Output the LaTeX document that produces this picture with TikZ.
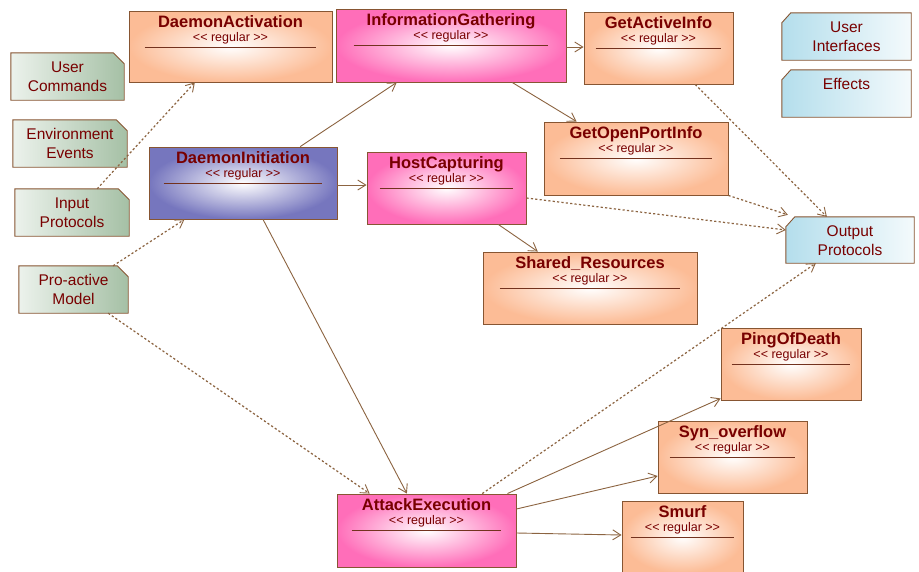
\documentclass[tikz,border=0pt]{standalone}
\usepackage{fontspec}
\setmainfont{Liberation Sans}
\usetikzlibrary{arrows.meta,calc}
\definecolor{bord}{RGB}{135,85,50}
\definecolor{arr}{RGB}{140,100,65}
\definecolor{txt}{RGB}{120,0,0}
\definecolor{peach}{RGB}{252,188,150}
\definecolor{pinkc}{RGB}{255,110,185}
\definecolor{purp}{RGB}{118,118,190}
\definecolor{greenn}{RGB}{165,192,165}
\definecolor{greenl}{RGB}{236,242,236}
\definecolor{bluen}{RGB}{180,222,236}
\definecolor{bluel}{RGB}{244,250,252}
\definecolor{sepc}{RGB}{115,50,30}
\tikzset{
  cls/.style={draw=bord, line width=0.9pt, inner color=white, outer color=#1, inner sep=0},
  notebox/.style={inner sep=0, draw=none},
  notegreen/.style={draw=bord, line width=0.9pt, left color=greenl, right color=greenn},
  noteblue/.style={draw=bord, line width=0.9pt, left color=bluen, right color=bluel},
  ttl/.style={font=\fontsize{16.5}{19}\selectfont\bfseries, text=txt, anchor=base, inner sep=0},
  ster/.style={font=\fontsize{12.5}{14}\selectfont, text=txt, anchor=base, inner sep=0},
  notetxt/.style={font=\fontsize{15.5}{19}\selectfont, text=txt, anchor=north, inner sep=0, align=center},
  sepl/.style={draw=sepc, line width=0.9pt},
  solidarr/.style={draw=arr, line width=0.9pt, -{Straight Barb[length=8pt,width=10pt]}},
  dotarr/.style={draw=arr, line width=1.2pt, dash pattern=on 2.2pt off 2.2pt, -{Straight Barb[length=8pt,width=10pt,line width=0.9pt]}}
}
\begin{document}
\begin{tikzpicture}[x=1pt,y=-1pt]
\useasboundingbox (0,0) rectangle (919,571);
\fill[white] (0,0) rectangle (919,571);

% ---------- class boxes ----------
\node[cls=peach, minimum width=203pt, minimum height=71pt] (da) at (230.5,46.5) {};
\node[ttl] (da-t) at ([yshift=-16.5pt]da.north) {DaemonActivation};
\node[ster] (da-s) at ([yshift=-30.5pt]da.north) {<{}< regular >{}>};
\draw[sepl] ([xshift=16pt,yshift=-36.5pt]da.north west) -- ([xshift=-16pt,yshift=-36.5pt]da.north east);

\node[cls=pinkc, minimum width=230pt, minimum height=73pt] (ig) at (451,45.5) {};
\node[ttl] (ig-t) at ([yshift=-16.5pt]ig.north) {InformationGathering};
\node[ster] (ig-s) at ([yshift=-30.5pt]ig.north) {<{}< regular >{}>};
\draw[sepl] ([xshift=18pt,yshift=-36.5pt]ig.north west) -- ([xshift=-18pt,yshift=-36.5pt]ig.north east);

\node[cls=peach, minimum width=149pt, minimum height=72pt] (gai) at (658.5,48) {};
\node[ttl] (gai-t) at ([yshift=-16.5pt]gai.north) {GetActiveInfo};
\node[ster] (gai-s) at ([yshift=-30.5pt]gai.north) {<{}< regular >{}>};
\draw[sepl] ([xshift=12pt,yshift=-36.5pt]gai.north west) -- ([xshift=-12pt,yshift=-36.5pt]gai.north east);

\node[cls=peach, minimum width=184pt, minimum height=73pt] (gopi) at (636,158.5) {};
\node[ttl] (gopi-t) at ([yshift=-16.5pt]gopi.north) {GetOpenPortInfo};
\node[ster] (gopi-s) at ([yshift=-30.5pt]gopi.north) {<{}< regular >{}>};
\draw[sepl] ([xshift=16pt,yshift=-36.5pt]gopi.north west) -- ([xshift=-16pt,yshift=-36.5pt]gopi.north east);

\node[cls=purp, minimum width=188pt, minimum height=72pt] (di) at (243,183) {};
\node[ttl] (di-t) at ([yshift=-16.5pt]di.north) {DaemonInitiation};
\node[ster] (di-s) at ([yshift=-30.5pt]di.north) {<{}< regular >{}>};
\draw[sepl] ([xshift=15pt,yshift=-36.5pt]di.north west) -- ([xshift=-15pt,yshift=-36.5pt]di.north east);

\node[cls=pinkc, minimum width=159pt, minimum height=72pt] (hc) at (446.5,188) {};
\node[ttl] (hc-t) at ([yshift=-16.5pt]hc.north) {HostCapturing};
\node[ster] (hc-s) at ([yshift=-30.5pt]hc.north) {<{}< regular >{}>};
\draw[sepl] ([xshift=13pt,yshift=-36.5pt]hc.north west) -- ([xshift=-13pt,yshift=-36.5pt]hc.north east);

\node[cls=peach, minimum width=214pt, minimum height=72pt] (sr) at (590,288) {};
\node[ttl] (sr-t) at ([yshift=-16.5pt]sr.north) {Shared\_Resources};
\node[ster] (sr-s) at ([yshift=-30.5pt]sr.north) {<{}< regular >{}>};
\draw[sepl] ([xshift=17pt,yshift=-36.5pt]sr.north west) -- ([xshift=-17pt,yshift=-36.5pt]sr.north east);

\node[cls=peach, minimum width=140pt, minimum height=72pt] (pod) at (791,364) {};
\node[ttl] (pod-t) at ([yshift=-16.5pt]pod.north) {PingOfDeath};
\node[ster] (pod-s) at ([yshift=-30.5pt]pod.north) {<{}< regular >{}>};
\draw[sepl] ([xshift=11pt,yshift=-36.5pt]pod.north west) -- ([xshift=-11pt,yshift=-36.5pt]pod.north east);

\node[cls=peach, minimum width=149pt, minimum height=72pt] (so) at (732.5,457) {};
\node[ttl] (so-t) at ([yshift=-16.5pt]so.north) {Syn\_overflow};
\node[ster] (so-s) at ([yshift=-30.5pt]so.north) {<{}< regular >{}>};
\draw[sepl] ([xshift=12pt,yshift=-36.5pt]so.north west) -- ([xshift=-12pt,yshift=-36.5pt]so.north east);

\node[cls=peach, minimum width=121pt, minimum height=72pt] (sm) at (682.5,537) {};
\node[ttl] (sm-t) at ([yshift=-16.5pt]sm.north) {Smurf};
\node[ster] (sm-s) at ([yshift=-30.5pt]sm.north) {<{}< regular >{}>};
\draw[sepl] ([xshift=9pt,yshift=-36.5pt]sm.north west) -- ([xshift=-9pt,yshift=-36.5pt]sm.north east);

\node[cls=pinkc, minimum width=179pt, minimum height=73pt] (ae) at (426.5,530.5) {};
\node[ttl] (ae-t) at ([yshift=-16.5pt]ae.north) {AttackExecution};
\node[ster] (ae-s) at ([yshift=-30.5pt]ae.north) {<{}< regular >{}>};
\draw[sepl] ([xshift=15pt,yshift=-36.5pt]ae.north west) -- ([xshift=-15pt,yshift=-36.5pt]ae.north east);

% ---------- notes (green, chamfer top right) ----------
\node[notebox, minimum width=113pt, minimum height=47pt] (uc) at (67.5,76.5) {};
\path[notegreen] (uc.north west) -- ([xshift=-11pt]uc.north east) -- ([yshift=-11pt]uc.north east) -- (uc.south east) -- (uc.south west) -- cycle;
\node[notetxt] (uc-t) at ([yshift=-8.6pt]uc.north) {User\\Commands};

\node[notebox, minimum width=114pt, minimum height=47pt] (ee) at (70,143.5) {};
\path[notegreen] (ee.north west) -- ([xshift=-11pt]ee.north east) -- ([yshift=-11pt]ee.north east) -- (ee.south east) -- (ee.south west) -- cycle;
\node[notetxt] (ee-t) at ([yshift=-8.6pt]ee.north) {Environment\\Events};

\node[notebox, minimum width=114pt, minimum height=47pt] (ip) at (72,212.5) {};
\path[notegreen] (ip.north west) -- ([xshift=-11pt]ip.north east) -- ([yshift=-11pt]ip.north east) -- (ip.south east) -- (ip.south west) -- cycle;
\node[notetxt] (ip-t) at ([yshift=-8.6pt]ip.north) {Input\\Protocols};

\node[notebox, minimum width=109pt, minimum height=47pt] (pm) at (73.5,289.5) {};
\path[notegreen] (pm.north west) -- ([xshift=-11pt]pm.north east) -- ([yshift=-11pt]pm.north east) -- (pm.south east) -- (pm.south west) -- cycle;
\node[notetxt] (pm-t) at ([yshift=-8.6pt]pm.north) {Pro-active\\Model};

% ---------- notes (blue, chamfer top left) ----------
\node[notebox, minimum width=129pt, minimum height=47pt] (ui) at (846.5,36.5) {};
\path[noteblue] ([xshift=9pt]ui.north west) -- (ui.north east) -- (ui.south east) -- (ui.south west) -- ([yshift=-10pt]ui.north west) -- cycle;
\node[notetxt] (ui-t) at ([yshift=-8.6pt]ui.north) {User\\Interfaces};

\node[notebox, minimum width=129pt, minimum height=47pt] (ef) at (846.5,93.5) {};
\path[noteblue] ([xshift=9pt]ef.north west) -- (ef.north east) -- (ef.south east) -- (ef.south west) -- ([yshift=-10pt]ef.north west) -- cycle;
\node[notetxt] (ef-t) at ([yshift=-8.6pt]ef.north) {Effects};

\node[notebox, minimum width=128pt, minimum height=46pt] (op) at (850,240) {};
\path[noteblue] ([xshift=9pt]op.north west) -- (op.north east) -- (op.south east) -- (op.south west) -- ([yshift=-10pt]op.north west) -- cycle;
\node[notetxt] (op-t) at ([yshift=-8.6pt]op.north) {Output\\Protocols};

% ---------- solid connectors ----------
\draw[solidarr] ($(di.north west)!0.803!(di.north east)$) -- ($(ig.south west)!0.265!(ig.south east)$);
\draw[solidarr] ([yshift=-2pt]di.east) -- ([yshift=3pt]hc.west);
\draw[solidarr] ($(di.south west)!0.606!(di.south east)$) -- ($(ae.north west)!0.391!(ae.north east)$);
\draw[solidarr] ([yshift=-1.5pt]ig.east) -- ([yshift=1pt]gai.west);
\draw[solidarr] ($(ig.south west)!0.765!(ig.south east)$) -- ($(gopi.north west)!0.179!(gopi.north east)$);
\draw[solidarr] ($(hc.south west)!0.824!(hc.south east)$) -- ($(sr.north west)!0.257!(sr.north east)$);
\draw[solidarr] ($(ae.north west)!0.95!(ae.north east)$) -- ([yshift=2pt]pod.south west);
\draw[solidarr] ([yshift=21.5pt]ae.east) -- ([yshift=-19pt]so.west);
\draw[solidarr] ([yshift=-2.5pt]ae.east) -- ([yshift=2pt]sm.west);

% ---------- dotted connectors ----------
\draw[dotarr] ($(ip.north west)!0.72!(ip.north east)$) -- ($(da.south west)!0.325!(da.south east)$);
\draw[dotarr] ($(pm.north west)!0.862!(pm.north east)$) -- ($(di.south west)!0.19!(di.south east)$);
\draw[dotarr] ($(pm.south west)!0.817!(pm.south east)$) -- ($(ae.north west)!0.184!(ae.north east)$);
\draw[dotarr] ($(gai.south west)!0.745!(gai.south east)$) -- ($(op.north west)!0.32!(op.north east)$);
\draw[dotarr] (gopi.south east) -- ([xshift=2pt,yshift=2pt]op.north west);
\draw[dotarr] ([yshift=-10pt]hc.east) -- ([yshift=10pt]op.west);
\draw[dotarr] ($(ae.north west)!0.81!(ae.north east)$) -- ($(op.south west)!0.234!(op.south east)$);
\end{tikzpicture}
\end{document}
